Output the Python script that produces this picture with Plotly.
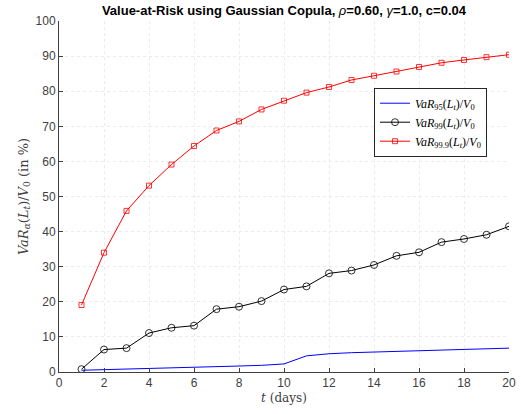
import plotly.graph_objects as go

days = list(range(1, 21))
var95 = [0.5, 0.7, 0.8, 1.0, 1.1, 1.3, 1.5, 1.7, 1.9, 2.3, 4.6, 5.2, 5.5, 5.7, 5.9, 6.1, 6.3, 6.5, 6.7, 6.8]
var99 = [0.8, 6.4, 6.8, 11.1, 12.6, 13.2, 17.9, 18.6, 20.2, 23.5, 24.4, 28.1, 28.9, 30.5, 33.1, 34.1, 37.0, 37.9, 39.1, 41.5]
var999 = [19.1, 34.0, 45.9, 53.1, 59.1, 64.4, 68.8, 71.4, 74.8, 77.3, 79.6, 81.2, 83.2, 84.4, 85.6, 86.9, 88.1, 88.9, 89.7, 90.4]

fig = go.Figure()
fig.add_trace(go.Scatter(x=days, y=var95, mode="lines", line=dict(color="#0000ff", width=1),
                         name="<i>VaR</i><sub>95</sub>(<i>L<sub>t</sub></i>)/<i>V</i><sub>0</sub>"))
fig.add_trace(go.Scatter(x=days, y=var99, mode="lines+markers", line=dict(color="#000000", width=1),
                         marker=dict(symbol="circle-open", size=7, color="#000000", line=dict(width=0.8)),
                         name="<i>VaR</i><sub>99</sub>(<i>L<sub>t</sub></i>)/<i>V</i><sub>0</sub>"))
fig.add_trace(go.Scatter(x=days, y=var999, mode="lines+markers", line=dict(color="#ff0000", width=1),
                         marker=dict(symbol="square-open", size=5, color="#ff0000", line=dict(width=0.8)),
                         name="<i>VaR</i><sub>99.9</sub>(<i>L<sub>t</sub></i>)/<i>V</i><sub>0</sub>"))

axis_common = dict(showgrid=True, gridcolor="#ebebeb", griddash="dot", gridwidth=1,
                   showline=True, linecolor="#404040", linewidth=1, ticks="inside", ticklen=4,
                   tickcolor="#404040", tickfont=dict(family="Liberation Sans, Arial", size=12, color="#404040"),
                   zeroline=False, mirror=False, automargin=False)

fig.update_layout(
    width=521, height=414,
    margin=dict(l=59, r=12, t=21, b=42),
    paper_bgcolor="white", plot_bgcolor="white",
    title=dict(text="<b>Value-at-Risk using Gaussian Copula, </b><i>ρ</i><b>=0.60, </b><i>γ</i><b>=1.0, c=0.04</b>",
               x=0.545, xanchor="center", y=0.985, yanchor="top",
               font=dict(family="Liberation Sans, Arial", size=13, color="#000000")),
    xaxis=dict(range=[0, 20], dtick=2, title=dict(text="<i>t</i> (days)", standoff=4,
               font=dict(family="DejaVu Serif, Liberation Serif", size=12, color="#404040")), **axis_common),
    yaxis=dict(range=[0, 100], dtick=10, title=dict(text="<i>VaR<sub>α</sub></i>(<i>L<sub>t</sub></i>)/<i>V</i><sub>0</sub> (in %)", standoff=4,
               font=dict(family="DejaVu Serif, Liberation Serif", size=13, color="#404040")), **axis_common),
    legend=dict(x=0.70, y=0.81, xanchor="left", yanchor="top", bgcolor="white",
                bordercolor="#262626", borderwidth=1,
                font=dict(family="Liberation Serif, DejaVu Serif", size=12, color="#000000"),
                tracegroupgap=0, itemwidth=30),
    showlegend=True,
)

fig.write_html("out.html")
